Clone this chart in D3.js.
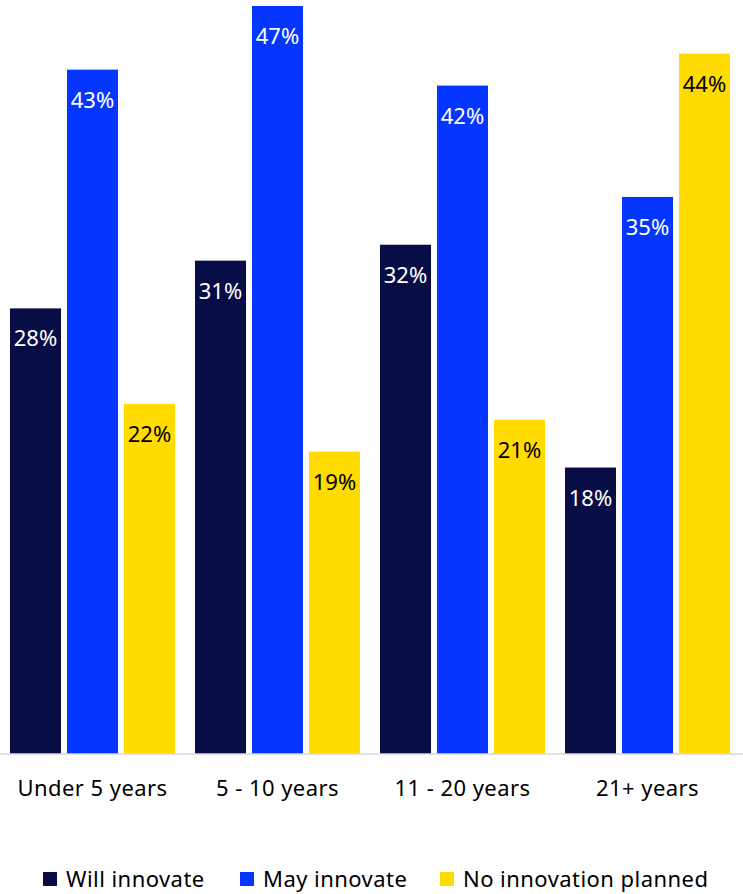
<!DOCTYPE html>
<html>
<head>
<meta charset="utf-8">
<script src="https://cdn.jsdelivr.net/npm/d3@7"></script>
<style>
  html, body { margin: 0; padding: 0; background: #ffffff; }
  svg { display: block; }
  text { font-family: "Noto Sans", "Open Sans", sans-serif; }
</style>
</head>
<body>
<div id="chart"></div>
<script>
// Innovation plans by company age (percent of respondents)
const categories = ["Under 5 years", "5 - 10 years", "11 - 20 years", "21+ years"];
const seriesNames = ["Will innovate", "May innovate", "No innovation planned"];
const willInnovate = [28, 31, 32, 18];
const mayInnovate = [43, 47, 42, 35];
const noInnovation = [22, 19, 21, 44];
const seriesColors = ["#080d45", "#0536ff", "#ffdb00"];
const labelColors = ["#ffffff", "#ffffff", "#000000"];

const seriesValues = [willInnovate, mayInnovate, noInnovation];

const width = 743, height = 894;
const baseY = 754;

const svg = d3.select("#chart").append("svg")
  .attr("width", width)
  .attr("height", height);

const x0 = d3.scaleBand()
  .domain(categories)
  .range([0, 740])
  .paddingInner(0.108)
  .paddingOuter(0.054);

const x1 = d3.scaleBand()
  .domain(seriesNames)
  .range([0, x0.bandwidth()])
  .paddingInner(0.105)
  .paddingOuter(0);

const y = d3.scaleLinear()
  .domain([0, 47])
  .range([baseY, 6]);

const rows = categories.map((c, i) => ({
  category: c,
  values: seriesNames.map((s, k) => ({ series: s, k, value: seriesValues[k][i] }))
}));

const groups = svg.selectAll("g.group")
  .data(rows)
  .join("g")
  .attr("class", "group")
  .attr("transform", d => `translate(${x0(d.category)},0)`);

groups.selectAll("rect")
  .data(d => d.values)
  .join("rect")
  .attr("x", d => x1(d.series))
  .attr("y", d => y(d.value))
  .attr("width", x1.bandwidth())
  .attr("height", d => baseY - y(d.value))
  .attr("fill", d => seriesColors[d.k]);

groups.selectAll("text.value")
  .data(d => d.values)
  .join("text")
  .attr("class", "value")
  .attr("x", d => x1(d.series) + x1.bandwidth() / 2)
  .attr("y", d => y(d.value) + 38)
  .attr("text-anchor", "middle")
  .attr("font-size", 22)
  .attr("fill", d => labelColors[d.k])
  .text(d => d.value + "%");

// Baseline axis
const xAxis = d3.axisBottom(x0).tickSize(0).tickPadding(0);
const axisG = svg.append("g")
  .attr("transform", `translate(0,${baseY})`)
  .call(xAxis);
axisG.select(".domain")
  .attr("d", `M0,0H${width}`)
  .attr("stroke", "#d9d9d9")
  .attr("stroke-width", 1.5);
axisG.selectAll(".tick text")
  .attr("dy", null)
  .attr("y", 42)
  .attr("font-size", 22)
  .attr("letter-spacing", "0.45px")
  .attr("font-family", "Noto Sans, sans-serif")
  .attr("fill", "#000000");

// Legend
const legendItems = [
  { name: seriesNames[0], x: 43 },
  { name: seriesNames[1], x: 240 },
  { name: seriesNames[2], x: 440 }
];
const legend = svg.append("g");
const li = legend.selectAll("g")
  .data(legendItems)
  .join("g")
  .attr("transform", d => `translate(${d.x},0)`);
li.append("rect")
  .attr("x", 0)
  .attr("y", 872)
  .attr("width", 14)
  .attr("height", 14)
  .attr("fill", (d, i) => seriesColors[i]);
li.append("text")
  .attr("x", 23)
  .attr("y", 887)
  .attr("font-size", 22)
  .attr("letter-spacing", "0.45px")
  .attr("fill", "#000000")
  .text(d => d.name);
</script>
</body>
</html>
